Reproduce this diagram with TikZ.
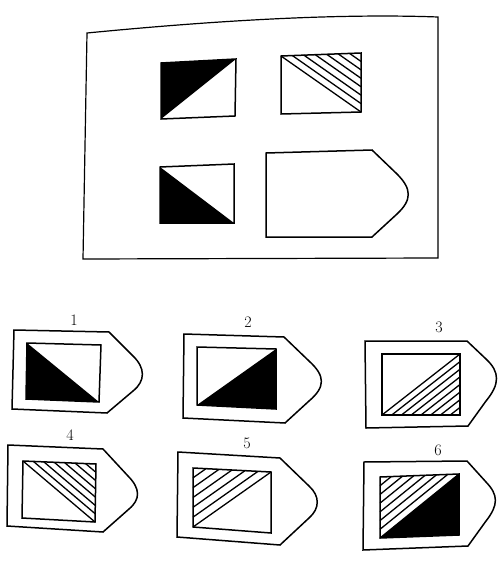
\documentclass[tikz,border=0pt]{standalone}
\usetikzlibrary{calc}
\tikzset{
  outl/.style={draw=black,line width=1.5pt,line join=miter},
  blk/.style={fill=black,draw=none},
  hline/.style={draw=black,line width=1.3pt},
  lbl/.style={font=\fontsize{16}{16}\selectfont,inner sep=0pt}
}
% hatch lines parallel to side B-C in triangle with apex A
\newcommand{\myhatch}[4]{% apex, B, C, count
  \foreach \k in {1,...,#4}{
    \draw[hline] ($(#1)!{\k/#4}!(#2)$) -- ($(#1)!{\k/#4}!(#3)$);
  }
}
% quad
\newcommand{\myquad}[5]{% name prefix, TL, TR, BR, BL
  \coordinate (#1tl) at (#2);
  \coordinate (#1tr) at (#3);
  \coordinate (#1br) at (#4);
  \coordinate (#1bl) at (#5);
}
\newcommand{\mypent}[9]{% TL, TC, D1, c1, c2, D2, BC, BL  (#9 unused)
  \draw[outl] (#1) -- (#2) -- (#3) .. controls (#4) and (#5) .. (#6) -- (#7) -- (#8) -- cycle;
}
\begin{document}
\begin{tikzpicture}[x=1pt,y=-1pt]
\useasboundingbox (0,0) rectangle (502,562);
\fill[white] (0,0) rectangle (502,562);

% ---------- question frame ----------
\draw[outl,line width=1.2pt] (87,33) .. controls (200,22) and (330,13) .. (438,17)
   -- (438,258) -- (83,259) -- cycle;

% square A : black upper-left
\myquad{a}{161,63}{236,59}{235,116}{161,119}
\fill[blk] (atl) -- (atr) -- (abl) -- cycle;
\draw[outl] (atl) -- (atr) -- (abr) -- (abl) -- cycle;

% square B : hatched upper-right
\myquad{b}{281,56}{361,53}{361,112}{281,114}
\myhatch{btr}{btl}{bbr}{7}
\draw[outl] (btl) -- (btr) -- (bbr) -- (bbl) -- cycle;

% square C : black lower-left
\myquad{c}{160,167}{234,164}{234,223}{160,223}
\fill[blk] (ctl) -- (cbl) -- (cbr) -- cycle;
\draw[outl] (ctl) -- (ctr) -- (cbr) -- (cbl) -- cycle;

% pentagon
\mypent{266,153}{372,150}{397,174}{412,189}{412,200}{397,214}{372,237}{266,237}{}

% ---------- option 1 ----------
\node[lbl] (l1) at (74,320) {1};
\mypent{14,330}{109,332}{133,356}{145.5,368}{145.5,381}{133,391}{107,413}{12,409}{}
\myquad{p}{27,343}{101,345}{99,402}{26,399}
\fill[blk] (ptl) -- (pbl) -- (pbr) -- cycle;
\draw[outl] (ptl) -- (ptr) -- (pbr) -- (pbl) -- cycle;

% ---------- option 2 ----------
\node[lbl] (l2) at (248,322) {2};
\mypent{184,334}{284,337}{309,361}{325.5,376}{325.5,387}{309,401}{285,423}{183,418}{}
\myquad{q}{197,347}{276,349}{276,409}{197,405}
\fill[blk] (qbl) -- (qbr) -- (qtr) -- cycle;
\draw[outl] (qtl) -- (qtr) -- (qbr) -- (qbl) -- cycle;

% ---------- option 3 ----------
\node[lbl] (l3) at (439,327) {3};
\mypent{365,341}{467,341}{486,359}{500,372}{500,384}{486,401}{468,426}{366,428}{}
\myquad{r}{382,354}{460,354}{460,415}{382,415}
\myhatch{rbr}{rbl}{rtr}{8}
\draw[outl] (rtl) -- (rtr) -- (rbr) -- (rbl) -- cycle;

% ---------- option 4 ----------
\node[lbl] (l4) at (70,435) {4};
\mypent{8,445}{103,449}{128,476}{140.5,488.6}{140.5,499.4}{129,509}{103,532}{7,526}{}
\myquad{s}{23,461}{96,464}{95,522}{22,518}
\myhatch{str}{stl}{sbr}{7}
\draw[outl] (stl) -- (str) -- (sbr) -- (sbl) -- cycle;

% ---------- option 5 ----------
\node[lbl] (l5) at (247,443) {5};
\mypent{178,452}{280,458}{309,486}{320,496}{320,508.4}{309,518}{280,545}{177,537}{}
\myquad{t}{193,468}{271,472}{271,533}{193,527}
\myhatch{ttl}{ttr}{tbl}{6}
\draw[outl] (ttl) -- (ttr) -- (tbr) -- (tbl) -- cycle;

% ---------- option 6 ----------
\node[lbl] (l6) at (438,450) {6};
\mypent{364,462}{467,461}{486,482}{498.5,495}{498.5,505}{486,521}{468,546}{363,550}{}
\myquad{u}{380,477}{459,474}{459,535}{380,538}
\fill[blk] (ubl) -- (ubr) -- (utr) -- cycle;
\myhatch{utl}{utr}{ubl}{7}
\draw[outl] (utl) -- (utr) -- (ubr) -- (ubl) -- cycle;
\end{tikzpicture}
\end{document}
